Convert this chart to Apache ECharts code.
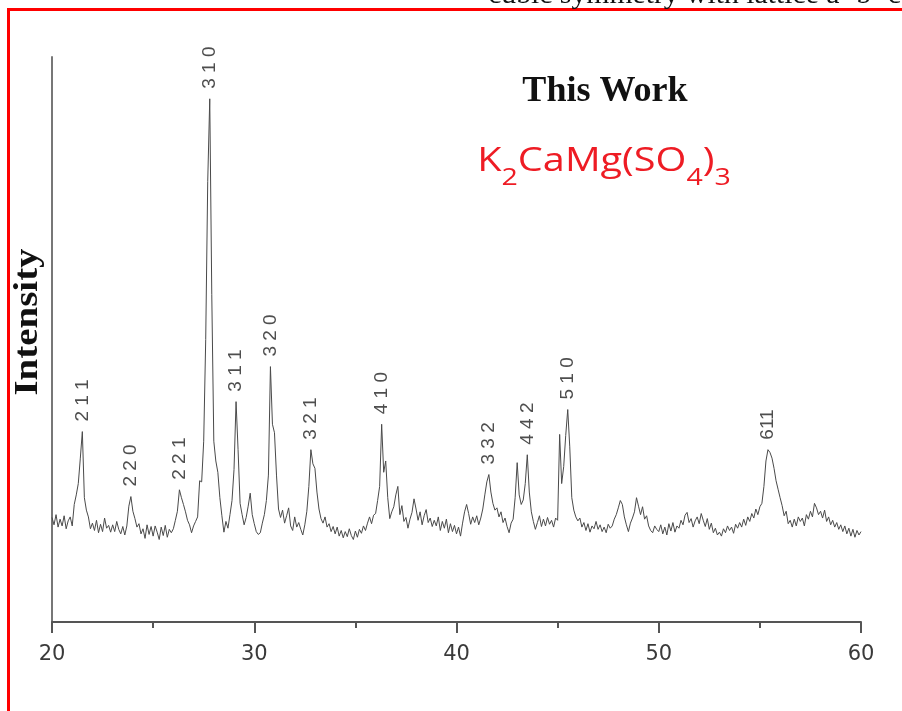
<!DOCTYPE html>
<html>
<head>
<meta charset="utf-8">
<script src="https://cdn.jsdelivr.net/npm/echarts@6/dist/echarts.min.js"></script>
<style>
  html, body { margin: 0; padding: 0; background: #fff; }
  #chart { width: 902px; height: 711px; }
</style>
</head>
<body>
<div id="chart"></div>
<script>
// XRD pattern, 2-theta from 20 to 60 deg sampled every 0.1 deg
const angleStart = 20
const angleStep = 0.1
const intensity = [
  18.5, 17.2, 19.0, 16.8, 18.2, 17.0, 18.8, 16.5, 17.9, 18.6, // 20
  17.0, 20.8, 22.5, 24.5, 29.0, 33.7, 22.0, 19.8, 18.6, 16.5, // 21
  17.5, 16.2, 18.0, 15.8, 17.3, 16.0, 18.4, 16.6, 17.1, 15.9, // 22
  17.2, 16.0, 17.8, 16.4, 15.6, 16.9, 15.4, 17.0, 20.5, 22.2, // 23
  19.6, 18.3, 16.8, 17.4, 15.6, 16.5, 14.8, 17.2, 15.5, 16.9, // 24
  15.2, 17.0, 15.9, 14.6, 16.8, 15.3, 17.1, 15.0, 16.4, 15.8, // 25
  16.5, 18.0, 19.6, 23.4, 22.0, 20.8, 19.5, 18.0, 17.2, 15.8, // 26
  17.0, 17.8, 18.6, 25.0, 24.8, 32.0, 50.0, 78.0, 92.6, 58.0, // 27
  32.0, 28.5, 26.5, 22.0, 18.8, 15.9, 17.8, 16.6, 19.0, 21.5, // 28
  27.0, 39.0, 30.5, 21.0, 19.0, 17.2, 18.5, 20.5, 22.8, 19.0, // 29
  17.4, 16.0, 15.5, 15.8, 17.5, 19.0, 21.5, 26.0, 45.2, 35.0, // 30
  33.5, 26.0, 20.0, 18.5, 19.8, 17.5, 18.8, 20.2, 17.0, 16.2, // 31
  18.6, 16.8, 17.6, 16.4, 15.4, 17.2, 19.6, 24.0, 30.5, 28.0, // 32
  27.2, 23.0, 20.0, 18.3, 17.5, 18.6, 16.8, 17.4, 16.0, 16.9, // 33
  15.6, 16.8, 15.2, 16.2, 14.9, 16.0, 15.1, 16.5, 15.3, 14.6, // 34
  16.1, 15.0, 16.4, 15.7, 17.0, 16.2, 17.5, 18.6, 17.4, 18.9, // 35
  19.2, 21.5, 24.0, 35.0, 26.5, 28.5, 22.0, 18.3, 19.5, 20.4, // 36
  22.5, 24.0, 19.0, 20.6, 17.8, 18.5, 16.6, 18.2, 19.4, 21.8, // 37
  20.0, 18.0, 19.5, 17.2, 18.8, 19.9, 17.6, 18.4, 16.9, 18.0, // 38
  17.0, 18.6, 16.2, 17.8, 16.6, 18.2, 15.8, 17.4, 16.0, 17.1, // 39
  15.6, 16.8, 15.2, 17.5, 19.5, 20.8, 19.2, 17.3, 18.6, 17.6, // 40
  18.8, 17.2, 18.4, 20.0, 22.5, 24.8, 26.1, 23.0, 21.0, 19.8, // 41
  20.2, 18.6, 19.5, 17.6, 18.4, 16.9, 15.8, 17.5, 18.2, 22.0, // 42
  28.2, 22.5, 20.8, 21.6, 24.5, 29.6, 23.0, 19.5, 17.8, 16.4, // 43
  17.6, 18.8, 16.9, 18.2, 17.0, 18.5, 17.3, 18.0, 16.8, 18.4, // 44
  18.0, 33.2, 24.5, 27.5, 33.0, 37.6, 31.0, 22.0, 19.8, 18.6, // 45
  17.9, 18.4, 16.8, 17.6, 16.2, 17.4, 15.9, 17.0, 16.5, 17.8, // 46
  16.4, 17.2, 16.0, 16.8, 15.8, 17.3, 16.6, 17.0, 18.2, 19.0, // 47
  20.2, 21.5, 20.8, 18.6, 17.2, 16.0, 17.5, 18.4, 19.5, 22.0, // 48
  20.5, 19.0, 20.4, 18.2, 18.8, 17.0, 16.2, 15.8, 17.0, 16.4, // 49
  16.0, 17.2, 15.6, 16.8, 15.4, 17.4, 16.1, 17.6, 15.9, 17.0, // 50
  16.6, 18.0, 17.2, 18.9, 19.4, 17.6, 18.3, 16.8, 17.9, 18.6, // 51
  17.4, 19.2, 18.0, 16.9, 18.3, 16.4, 17.5, 15.8, 16.6, 15.4, // 52
  15.9, 15.2, 16.5, 15.8, 17.0, 16.2, 16.8, 15.7, 17.3, 16.6, // 53
  17.6, 16.8, 18.2, 17.1, 18.6, 17.8, 19.2, 18.4, 20.0, 19.0, // 54
  20.4, 21.0, 24.0, 28.5, 30.5, 30.0, 29.0, 27.2, 25.0, 23.5, // 55
  22.0, 20.6, 18.8, 19.6, 17.4, 18.0, 16.8, 18.2, 17.0, 18.6, // 56
  17.8, 18.4, 17.0, 19.0, 18.2, 19.6, 18.6, 21.0, 20.2, 19.0, // 57
  19.6, 18.4, 19.8, 17.8, 18.6, 17.2, 18.0, 16.8, 17.6, 16.4, // 58
  17.2, 16.0, 17.0, 15.6, 16.6, 15.2, 16.4, 15.0, 16.2, 15.4, // 59
  16.0
]

// Miller indices of the indexed reflections
const peakHkl = ['2 1 1', '2 2 0', '2 2 1', '3 1 0', '3 1 1', '3 2 0', '3 2 1', '4 1 0', '3 3 2', '4 4 2', '5 1 0', '611']
const peakAngle = [21.5, 23.9, 26.3, 27.8, 29.1, 30.8, 32.8, 36.3, 41.6, 43.5, 45.5, 55.4]

const xTicks = [20, 30, 40, 50, 60]

const pattern = intensity.map((v, i) => [+(angleStart + i * angleStep).toFixed(1), v])
const peakPoints = peakAngle.map((a, i) => {
  const idx = Math.round((a - angleStart) / angleStep)
  return [a, intensity[idx], peakHkl[i]]
})

const chart = echarts.init(document.getElementById('chart'))

chart.setOption({
  animation: false,
  backgroundColor: '#fff',
  grid: {
    left: 52,
    right: 41,
    top: 57,
    bottom: 89
  },
  xAxis: {
    type: 'value',
    min: xTicks[0],
    max: xTicks[xTicks.length - 1],
    interval: 10,
    axisLine: { lineStyle: { color: '#555', width: 2 } },
    axisTick: { length: 11, lineStyle: { color: '#555', width: 2 } },
    minorTick: { show: true, splitNumber: 2, length: 6, lineStyle: { color: '#555', width: 2 } },
    axisLabel: { fontSize: 21, fontFamily: 'DejaVu Sans', color: '#3a3a3a', margin: 22 },
    splitLine: { show: false }
  },
  yAxis: {
    type: 'value',
    min: 0,
    max: 100,
    axisLine: { show: true, lineStyle: { color: '#777', width: 2 } },
    axisTick: { show: false },
    axisLabel: { show: false },
    splitLine: { show: false }
  },
  series: [
    {
      type: 'line',
      data: pattern,
      showSymbol: false,
      lineStyle: { color: '#4a4a4a', width: 1 }
    },
    {
      type: 'scatter',
      data: peakPoints,
      symbolSize: 0,
      label: {
        show: true,
        position: 'top',
        distance: 10,
        rotate: 90,
        align: 'left',
        verticalAlign: 'middle',
        formatter: p => p.value[2],
        fontSize: 19,
        fontFamily: 'Liberation Sans',
        color: '#222'
      }
    }
  ],
  graphic: [
    {
      type: 'line',
      shape: { x1: 8.5, y1: 9.5, x2: 8.5, y2: 711 },
      style: { stroke: '#ff0000', lineWidth: 3 }
    },
    {
      type: 'line',
      shape: { x1: 7, y1: 9.5, x2: 902, y2: 9.5 },
      style: { stroke: '#ff0000', lineWidth: 3 }
    },
    {
      type: 'text',
      x: 901,
      y: 9,
      scaleX: 1.1,
      style: {
        text: 'cubic symmetry with lattice a=b=c',
        align: 'right',
        verticalAlign: 'bottom',
        font: '27px "Liberation Serif"',
        fill: '#111'
      }
    },
    {
      type: 'text',
      x: 605,
      y: 92,
      scaleX: 1.03,
      style: {
        text: 'This Work',
        align: 'center',
        verticalAlign: 'middle',
        font: 'bold 35px "Liberation Serif"',
        fill: '#111'
      }
    },
    {
      type: 'text',
      x: 604,
      y: 146,
      scaleX: 1.24,
      style: {
        text: '{a|K}{s|2}{a|CaMg(SO}{s|4}{a|)}{s|3}',
        align: 'center',
        verticalAlign: 'top',
        rich: {
          a: { fontSize: 32, lineHeight: 44, verticalAlign: 'top', fontFamily: 'Open Sans', fill: '#ee1c24' },
          s: { fontSize: 23, lineHeight: 14, verticalAlign: 'bottom', fontFamily: 'Open Sans', fill: '#ee1c24' }
        }
      }
    },
    {
      type: 'text',
      x: 28,
      y: 322,
      rotation: Math.PI / 2,
      scaleX: 1.18,
      style: {
        text: 'Intensity',
        align: 'center',
        verticalAlign: 'middle',
        font: 'bold 33px "Liberation Serif"',
        fill: '#111'
      }
    }
  ]
})
</script>
</body>
</html>
